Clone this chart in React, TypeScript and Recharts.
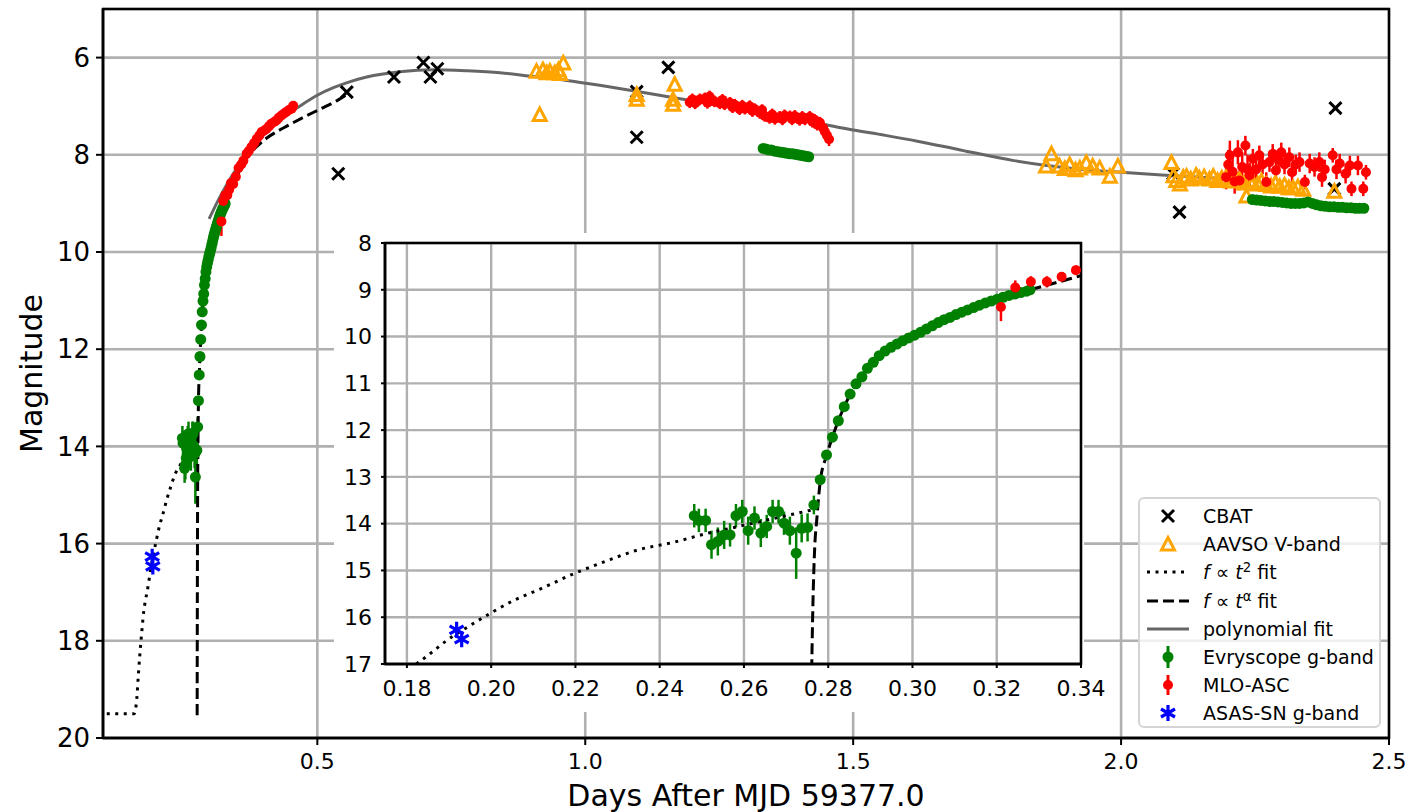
import React from "react";
import {
  CartesianGrid,
  ComposedChart,
  ErrorBar,
  Legend,
  Line,
  ReferenceArea,
  Scatter,
  XAxis,
  YAxis,
} from "recharts";

const FONT = "DejaVu Sans, sans-serif";

type P = [number, number];
type E = [number, number, number];

// axis ticks
const mainXTicks = [0.5, 1.0, 1.5, 2.0, 2.5];
const mainYTicks = [6, 8, 10, 12, 14, 16, 18, 20];
const insetXTicks = [0.18, 0.2, 0.22, 0.24, 0.26, 0.28, 0.3, 0.32, 0.34];
const insetYTicks = [8, 9, 10, 11, 12, 13, 14, 15, 16, 17];

// CBAT (x markers)
const cbat: P[] = [
  [0.539, 8.39], [0.555, 6.71], [0.643, 6.4], [0.698, 6.1], [0.711, 6.4], [0.724, 6.23],
  [1.096, 7.64], [1.096, 6.7], [1.155, 6.2], [2.097, 8.39], [2.109, 9.18], [2.398, 8.7], [2.4, 7.04],
];

// AAVSO V-band (open triangles)
const aavso: P[] = [
  [0.909, 6.3], [0.915, 7.19], [0.921, 6.27], [0.928, 6.33], [0.934, 6.3], [0.943, 6.33],
  [0.95, 6.27], [0.953, 6.35], [0.959, 6.13],
  [1.096, 6.78], [1.096, 6.88], [1.164, 6.88], [1.164, 6.98], [1.167, 6.57],
  [1.86, 8.25], [1.87, 8.0], [1.885, 8.25], [1.895, 8.3], [1.904, 8.22], [1.915, 8.33],
  [1.923, 8.29], [1.935, 8.18], [1.947, 8.25], [1.96, 8.29], [1.979, 8.46], [1.994, 8.25],
  [2.094, 8.18], [2.098, 8.45], [2.103, 8.55], [2.11, 8.62], [2.116, 8.48], [2.122, 8.46],
  [2.13, 8.52], [2.14, 8.44], [2.146, 8.5], [2.155, 8.47], [2.165, 8.52], [2.172, 8.46],
  [2.18, 8.55], [2.188, 8.5], [2.196, 8.49], [2.205, 8.56], [2.214, 8.5], [2.221, 8.53],
  [2.23, 8.6], [2.234, 8.87], [2.24, 8.55], [2.246, 8.6], [2.255, 8.62], [2.262, 8.56],
  [2.271, 8.63], [2.28, 8.66], [2.288, 8.6], [2.296, 8.67], [2.305, 8.64], [2.313, 8.7],
  [2.321, 8.7], [2.33, 8.68], [2.34, 8.73], [2.398, 8.77],
];

// Evryscope g-band [x, mag, err]
const evryEarly: E[] = [
  [0.2482, 13.83, 0.25], [0.2493, 13.93, 0.25], [0.2509, 13.93, 0.25], [0.2523, 14.45, 0.3],
  [0.2538, 14.38, 0.3], [0.2553, 14.24, 0.3], [0.2567, 14.24, 0.25], [0.2581, 13.83, 0.25],
  [0.2596, 13.74, 0.25], [0.261, 14.15, 0.3], [0.2625, 13.88, 0.25], [0.264, 14.2, 0.3],
  [0.2654, 14.06, 0.25], [0.2668, 13.74, 0.25], [0.2682, 13.74, 0.25], [0.2695, 13.99, 0.25],
  [0.2709, 14.15, 0.3], [0.2724, 14.63, 0.55], [0.2737, 14.1, 0.3], [0.2751, 14.08, 0.3],
  [0.2766, 13.6, 0.2], [0.2781, 13.06, 0.1], [0.2796, 12.53, 0.08], [0.281, 12.15, 0.08],
  [0.2824, 11.8, 0.05], [0.2838, 11.5, 0.05], [0.2852, 11.23, 0.05], [0.2866, 11.01, 0.05],
  [0.288, 10.86, 0.05], [0.2893, 10.68, 0.05], [0.2907, 10.55, 0.05], [0.2921, 10.41, 0.05],
  [0.2935, 10.31, 0.05], [0.2949, 10.23, 0.05], [0.2963, 10.16, 0.05], [0.2977, 10.09, 0.05],
  [0.2991, 10.03, 0.05], [0.3005, 9.97, 0.05], [0.3019, 9.91, 0.05], [0.3033, 9.84, 0.05],
  [0.3047, 9.77, 0.05], [0.3061, 9.7, 0.05], [0.3075, 9.64, 0.05], [0.3089, 9.59, 0.05],
  [0.3103, 9.53, 0.05], [0.3117, 9.48, 0.05], [0.3131, 9.43, 0.05], [0.3145, 9.38, 0.05],
  [0.3159, 9.33, 0.05], [0.3173, 9.28, 0.05], [0.3187, 9.24, 0.05], [0.3201, 9.2, 0.05],
  [0.3215, 9.16, 0.05], [0.3229, 9.12, 0.05], [0.3243, 9.09, 0.05], [0.3257, 9.06, 0.05],
  [0.3271, 9.03, 0.05], [0.3279, 9.0, 0.05],
];
const evryMid: E[] = [
  [1.332, 7.87, 0.02], [1.337, 7.88, 0.02], [1.342, 7.9, 0.02], [1.347, 7.9, 0.02],
  [1.352, 7.92, 0.02], [1.357, 7.93, 0.02], [1.362, 7.94, 0.02], [1.367, 7.95, 0.02],
  [1.372, 7.96, 0.02], [1.377, 7.97, 0.02], [1.382, 7.98, 0.02], [1.387, 7.98, 0.02],
  [1.392, 7.99, 0.02], [1.397, 8.0, 0.02], [1.402, 8.01, 0.02], [1.407, 8.02, 0.02],
  [1.412, 8.03, 0.02], [1.417, 8.04, 0.02],
];
const evryLate: E[] = [
  [2.245, 8.92, 0.02], [2.253, 8.93, 0.02], [2.261, 8.94, 0.02], [2.269, 8.95, 0.02],
  [2.277, 8.96, 0.02], [2.285, 8.96, 0.02], [2.293, 8.97, 0.02], [2.301, 8.98, 0.02],
  [2.309, 8.99, 0.02], [2.317, 9.0, 0.02], [2.325, 9.0, 0.02], [2.333, 9.0, 0.02],
  [2.341, 8.99, 0.02], [2.349, 8.97, 0.02], [2.357, 9.0, 0.02], [2.365, 9.03, 0.02],
  [2.373, 9.05, 0.02], [2.381, 9.06, 0.02], [2.389, 9.07, 0.02], [2.397, 9.07, 0.02],
  [2.405, 9.08, 0.02], [2.413, 9.08, 0.02], [2.421, 9.09, 0.02], [2.429, 9.09, 0.02],
  [2.437, 9.1, 0.02], [2.445, 9.1, 0.02], [2.453, 9.1, 0.02],
];

// MLO-ASC [x, mag, err]
const mloEarly: E[] = [
  [0.321, 9.37, 0.3], [0.3244, 8.95, 0.15], [0.3281, 8.83, 0.12], [0.3319, 8.83, 0.12],
  [0.3354, 8.72, 0.1], [0.3388, 8.58, 0.1], [0.343, 8.6, 0.1], [0.348, 8.45, 0.1],
  [0.353, 8.27, 0.1], [0.358, 8.2, 0.08], [0.362, 8.12, 0.08], [0.368, 7.98, 0.08],
  [0.372, 7.92, 0.08], [0.377, 7.84, 0.08], [0.382, 7.76, 0.08], [0.387, 7.67, 0.08],
  [0.392, 7.6, 0.08], [0.396, 7.53, 0.08], [0.401, 7.5, 0.08], [0.405, 7.47, 0.08],
  [0.41, 7.41, 0.08], [0.414, 7.36, 0.08], [0.42, 7.32, 0.08], [0.424, 7.29, 0.08],
  [0.428, 7.24, 0.08], [0.433, 7.19, 0.08], [0.438, 7.15, 0.08], [0.442, 7.12, 0.08],
  [0.447, 7.08, 0.08], [0.452, 7.05, 0.08], [0.455, 6.99, 0.08],
];
const mloMid: E[] = [
  [1.195, 6.92, 0.12], [1.2, 6.86, 0.12], [1.205, 6.94, 0.12], [1.214, 6.86, 0.12],
  [1.223, 6.84, 0.12], [1.228, 6.93, 0.12], [1.232, 6.8, 0.12], [1.241, 6.9, 0.12],
  [1.251, 6.94, 0.12], [1.256, 6.87, 0.12], [1.26, 6.96, 0.12], [1.27, 6.93, 0.12],
  [1.275, 7.02, 0.12], [1.279, 6.97, 0.12], [1.288, 7.06, 0.12], [1.293, 6.99, 0.12],
  [1.298, 7.05, 0.12], [1.307, 7.0, 0.12], [1.312, 7.1, 0.12], [1.316, 7.06, 0.12],
  [1.326, 7.14, 0.12], [1.33, 7.08, 0.12], [1.335, 7.2, 0.12], [1.344, 7.24, 0.12],
  [1.349, 7.17, 0.12], [1.354, 7.26, 0.12], [1.363, 7.22, 0.12], [1.368, 7.27, 0.12],
  [1.372, 7.19, 0.12], [1.382, 7.21, 0.12], [1.386, 7.27, 0.12], [1.391, 7.2, 0.12],
  [1.4, 7.28, 0.12], [1.405, 7.22, 0.12], [1.41, 7.27, 0.12], [1.419, 7.22, 0.12],
  [1.424, 7.32, 0.12], [1.428, 7.28, 0.12], [1.433, 7.38, 0.12], [1.438, 7.34, 0.12],
  [1.444, 7.45, 0.12], [1.447, 7.52, 0.12], [1.451, 7.6, 0.14], [1.455, 7.68, 0.14],
];
const mloLate: E[] = [
  [2.196, 8.46, 0.25], [2.2, 8.2, 0.3], [2.203, 8.01, 0.3], [2.208, 8.35, 0.3],
  [2.212, 8.55, 0.25], [2.218, 7.95, 0.25], [2.221, 8.53, 0.2], [2.226, 8.25, 0.3],
  [2.232, 7.81, 0.2], [2.236, 8.3, 0.3], [2.24, 8.42, 0.25], [2.246, 8.08, 0.2],
  [2.252, 8.3, 0.25], [2.258, 8.01, 0.2], [2.264, 8.2, 0.2], [2.271, 8.56, 0.2],
  [2.277, 8.15, 0.2], [2.283, 7.98, 0.2], [2.289, 8.32, 0.2], [2.294, 8.1, 0.2],
  [2.299, 7.95, 0.2], [2.305, 8.2, 0.2], [2.314, 8.05, 0.2], [2.319, 8.36, 0.2],
  [2.326, 8.2, 0.2], [2.333, 8.15, 0.2], [2.343, 8.56, 0.15], [2.352, 8.18, 0.2],
  [2.361, 8.25, 0.2], [2.37, 8.15, 0.2], [2.375, 8.46, 0.2], [2.38, 8.3, 0.2],
  [2.395, 8.01, 0.15], [2.402, 8.3, 0.2], [2.408, 8.18, 0.2], [2.419, 8.39, 0.2],
  [2.427, 8.22, 0.2], [2.43, 8.7, 0.15], [2.442, 8.22, 0.2], [2.452, 8.7, 0.15],
  [2.457, 8.36, 0.15],
];

// ASAS-SN g-band
const asassn: P[] = [[0.1918, 16.27], [0.193, 16.47]];

// fits
const fitT2: P[] = [
  [0.107, 19.5], [0.158, 19.5], [0.163, 19.2], [0.166, 18.7], [0.169, 18.25], [0.1725, 17.8],
  [0.176, 17.4], [0.1795, 17.15], [0.1827, 16.97], [0.1862, 16.73], [0.1894, 16.5],
  [0.1946, 16.2], [0.2001, 15.9], [0.2056, 15.63], [0.2116, 15.4], [0.2191, 15.09],
  [0.227, 14.81], [0.2349, 14.56], [0.2432, 14.4], [0.2516, 14.2], [0.2567, 14.1],
  [0.2665, 13.9], [0.2765, 13.7],
];
const fitTa: P[] = [
  [0.2757, 19.53], [0.2761, 17.0], [0.2764, 15.6], [0.2768, 14.5], [0.2773, 13.9],
  [0.2781, 13.1], [0.2796, 12.55], [0.281, 12.15], [0.2824, 11.8], [0.2838, 11.5],
  [0.2852, 11.24], [0.2866, 11.02], [0.288, 10.85], [0.2907, 10.55], [0.2935, 10.31],
  [0.2963, 10.15], [0.3005, 9.96], [0.3047, 9.77], [0.3089, 9.58], [0.3131, 9.43],
  [0.3173, 9.28], [0.3215, 9.15], [0.3257, 9.05], [0.3299, 8.95], [0.34, 8.7],
  [0.356, 8.3], [0.374, 7.98], [0.39, 7.8], [0.405, 7.66], [0.425, 7.52], [0.443, 7.41],
  [0.474, 7.23], [0.505, 7.06], [0.539, 6.87], [0.555, 6.76],
];
const fitPoly: P[] = [
  [0.298, 9.32], [0.318, 8.87], [0.343, 8.39], [0.374, 7.91], [0.405, 7.53], [0.436, 7.23],
  [0.467, 7.0], [0.499, 6.78], [0.53, 6.62], [0.56, 6.5], [0.592, 6.4], [0.654, 6.29],
  [0.716, 6.25], [0.778, 6.27], [0.841, 6.31], [0.903, 6.39], [0.965, 6.47], [1.027, 6.57],
  [1.089, 6.68], [1.152, 6.8], [1.21, 6.91], [1.28, 7.04], [1.35, 7.18], [1.42, 7.32],
  [1.49, 7.47], [1.56, 7.6], [1.62, 7.72], [1.7, 7.9], [1.8, 8.12], [1.91, 8.28],
  [2.0, 8.36], [2.1, 8.43], [2.19, 8.49],
];

const xy = (a: P[]) => a.map(([x, y]) => ({ x, y }));
const xye = (a: E[]) => a.map(([x, y, e]) => ({ x, y, e }));

const cbatData = xy(cbat);
const aavsoData = xy(aavso);
const evryData = xye([...evryEarly, ...evryMid, ...evryLate]);
const mloData = xye([...mloEarly, ...mloMid, ...mloLate]);
const asassnData = xy(asassn);
const t2Data = xy(fitT2);
const taData = xy(fitTa);
const polyData = xy(fitPoly);

const inInset = (d: { x: number; y: number }) => d.x >= 0.174 && d.x <= 0.341 && d.y >= 7.9 && d.y <= 17.1;

// marker shapes
const dot = (fill: string, r: number) => (p: any) => <circle cx={p.cx} cy={p.cy} r={r} fill={fill} />;
const cross = (p: any) => {
  const s = 6;
  return (
    <path
      d={`M${p.cx - s},${p.cy - s}L${p.cx + s},${p.cy + s}M${p.cx + s},${p.cy - s}L${p.cx - s},${p.cy + s}`}
      stroke="#000"
      strokeWidth={3}
      fill="none"
    />
  );
};
const triangle = (p: any) => (
  <path
    d={`M${p.cx},${p.cy - 7.5}L${p.cx + 6.5},${p.cy + 5}L${p.cx - 6.5},${p.cy + 5}Z`}
    stroke="#ffa500"
    strokeWidth={3}
    fill="none"
  />
);
const asterisk = (p: any) => (
  <path
    d={`M${p.cx},${p.cy - 8}L${p.cx},${p.cy + 8}M${p.cx - 7},${p.cy - 4}L${p.cx + 7},${p.cy + 4}M${p.cx - 7},${p.cy + 4}L${p.cx + 7},${p.cy - 4}`}
    stroke="#0000ff"
    strokeWidth={3.2}
    fill="none"
  />
);

const yTitle = (props: any) => {
  const vb = props.viewBox || { x: 0, y: 9, width: 103, height: 729 };
  const cx = vb.x + 31;
  const cy = vb.y + vb.height / 2;
  return (
    <text x={cx} y={cy} transform={`rotate(-90 ${cx} ${cy})`} textAnchor="middle" dominantBaseline="central" fontSize={30} fontFamily={FONT} fill="#000">
      Magnitude
    </text>
  );
};
const xTitle = (props: any) => {
  const vb = props.viewBox || { x: 103, y: 738, width: 1286, height: 74 };
  return (
    <text x={vb.x + vb.width / 2} y={vb.y + 57} textAnchor="middle" dominantBaseline="central" fontSize={30} fontFamily={FONT} fill="#000">
      Days After MJD 59377.0
    </text>
  );
};

const LegendIcon = ({ kind }: { kind: string }) => {
  const c = 28;
  const m = 14;
  let el: React.ReactNode = null;
  if (kind === "cbat") el = cross({ cx: c, cy: m });
  if (kind === "aavso") el = triangle({ cx: c, cy: m + 1 });
  if (kind === "t2") el = <line x1={7} x2={49} y1={m} y2={m} stroke="#000" strokeWidth={3} strokeDasharray="3 5.5" />;
  if (kind === "ta") el = <line x1={7} x2={49} y1={m} y2={m} stroke="#000" strokeWidth={3} strokeDasharray="11 5" />;
  if (kind === "poly") el = <line x1={7} x2={49} y1={m} y2={m} stroke="#666666" strokeWidth={3} />;
  if (kind === "evry")
    el = (
      <g>
        <line x1={c} x2={c} y1={3} y2={25} stroke="#008000" strokeWidth={3} />
        <circle cx={c} cy={m} r={5.5} fill="#008000" />
      </g>
    );
  if (kind === "mlo")
    el = (
      <g>
        <line x1={c} x2={c} y1={4} y2={24} stroke="#ff0000" strokeWidth={3} />
        <circle cx={c} cy={m} r={5} fill="#ff0000" />
      </g>
    );
  if (kind === "asassn") el = asterisk({ cx: c, cy: m });
  return (
    <svg width={56} height={28} style={{ display: "block", flex: "none" }}>
      {el}
    </svg>
  );
};

const legendRows: { kind: string; label: React.ReactNode }[] = [
  { kind: "cbat", label: "CBAT" },
  { kind: "aavso", label: "AAVSO V-band" },
  { kind: "t2", label: <span><i>f</i> ∝ <i>t</i><sup style={{ fontSize: "0.7em", lineHeight: 0 }}>2</sup> fit</span> },
  { kind: "ta", label: <span><i>f</i> ∝ <i>t</i><sup style={{ fontSize: "0.7em", lineHeight: 0 }}>α</sup> fit</span> },
  { kind: "poly", label: "polynomial fit" },
  { kind: "evry", label: "Evryscope g-band" },
  { kind: "mlo", label: "MLO-ASC" },
  { kind: "asassn", label: "ASAS-SN g-band" },
];

const LegendBox = () => (
  <div
    style={{
      width: 243,
      height: 231,
      boxSizing: "border-box",
      border: "2px solid #d4d4d4",
      borderRadius: 6,
      background: "rgba(255,255,255,0.8)",
      paddingTop: 3,
      fontFamily: FONT,
      fontSize: 19,
      color: "#000",
    }}
  >
    {legendRows.map((r) => (
      <div key={r.kind} style={{ display: "flex", alignItems: "center", height: 28.2 }}>
        <LegendIcon kind={r.kind} />
        <span style={{ marginLeft: 7, whiteSpace: "nowrap", lineHeight: "28px" }}>{r.label}</span>
      </div>
    ))}
  </div>
);

const axisLine = { stroke: "#000", strokeWidth: 2.5 };
const tickLine = { stroke: "#000", strokeWidth: 2 };

function MainChart() {
  return (
    <ComposedChart width={1408} height={812} margin={{ top: 9, right: 19, bottom: 0, left: 0 }}>
      <CartesianGrid stroke="#b0b0b0" strokeWidth={2.6} />
      <XAxis
        type="number"
        dataKey="x"
        domain={[0.1, 2.5]}
        ticks={mainXTicks}
        interval={0}
        tickFormatter={(v: number) => v.toFixed(1)}
        allowDataOverflow
        height={74}
        axisLine={axisLine}
        tickLine={tickLine}
        tickSize={7}
        tickMargin={8}
        tick={{ fill: "#000", fontSize: 22, fontFamily: FONT }}
        label={{ content: xTitle }}
      />
      <YAxis
        type="number"
        dataKey="y"
        domain={[5, 20]}
        reversed
        ticks={mainYTicks}
        interval={0}
        allowDataOverflow
        width={103}
        axisLine={axisLine}
        tickLine={tickLine}
        tickSize={7}
        tickMargin={6}
        tick={{ fill: "#000", fontSize: 26, fontFamily: FONT }}
        label={{ content: yTitle }}
      />
      <Scatter data={cbatData} shape={cross} isAnimationActive={false} />
      <Scatter data={aavsoData} shape={triangle} isAnimationActive={false} />
      <Line data={polyData} dataKey="y" type="monotone" stroke="#666666" strokeWidth={3} dot={false} activeDot={false} isAnimationActive={false} />
      <Scatter data={evryData} shape={dot("#008000", 5.5)} isAnimationActive={false}>
        <ErrorBar dataKey="e" direction="y" width={0} stroke="#008000" strokeWidth={2.5} />
      </Scatter>
      <Scatter data={mloData} shape={dot("#ff0000", 5)} isAnimationActive={false}>
        <ErrorBar dataKey="e" direction="y" width={0} stroke="#ff0000" strokeWidth={2.5} />
      </Scatter>
      <Scatter data={asassnData} shape={asterisk} isAnimationActive={false} />
      <Line data={t2Data} dataKey="y" type="monotone" stroke="#000" strokeWidth={3} strokeDasharray="3 5.5" dot={false} activeDot={false} isAnimationActive={false} />
      <Line data={taData} dataKey="y" type="monotone" stroke="#000" strokeWidth={3} strokeDasharray="11 5" dot={false} activeDot={false} isAnimationActive={false} />
      <ReferenceArea x1={0.1} x2={2.5} y1={5} y2={20} fill="none" stroke="#000" strokeWidth={2.5} ifOverflow="visible" />
      <Legend
        layout="vertical"
        align="center"
        verticalAlign="middle"
        wrapperStyle={{ left: 1138, top: 497, width: 243, height: 231 }}
        content={() => <LegendBox />}
      />
    </ComposedChart>
  );
}

function InsetChart() {
  const f = (d: any[]) => d.filter(inInset);
  return (
    <div style={{ position: "absolute", left: 334, top: 223, width: 780, height: 489 }}>
      <div style={{ position: "absolute", left: 0, top: 10, width: 750, height: 479, background: "#fff" }} />
      <div style={{ position: "absolute", left: 0, top: 0 }}>
        <ComposedChart width={780} height={489} margin={{ top: 20, right: 33, bottom: 0, left: 0 }}>
          <CartesianGrid stroke="#b0b0b0" strokeWidth={2.4} />
          <XAxis
            type="number"
            dataKey="x"
            domain={[0.1748, 0.34]}
            ticks={insetXTicks}
            interval={0}
            tickFormatter={(v: number) => v.toFixed(2)}
            allowDataOverflow
            height={48}
            axisLine={axisLine}
            tickLine={tickLine}
            tickSize={4}
            tickMargin={12}
            tick={{ fill: "#000", fontSize: 22, fontFamily: FONT }}
          />
          <YAxis
            type="number"
            dataKey="y"
            domain={[8, 17]}
            reversed
            ticks={insetYTicks}
            interval={0}
            allowDataOverflow
            width={51}
            axisLine={axisLine}
            tickLine={tickLine}
            tickSize={4}
            tickMargin={9}
            tick={{ fill: "#000", fontSize: 22, fontFamily: FONT }}
          />
          <Scatter data={f(evryData)} shape={dot("#008000", 5.5)} isAnimationActive={false}>
            <ErrorBar dataKey="e" direction="y" width={0} stroke="#008000" strokeWidth={2.5} />
          </Scatter>
          <Scatter data={f(mloData)} shape={dot("#ff0000", 5)} isAnimationActive={false}>
            <ErrorBar dataKey="e" direction="y" width={0} stroke="#ff0000" strokeWidth={2.5} />
          </Scatter>
          <Scatter data={f(asassnData)} shape={asterisk} isAnimationActive={false} />
          <Line data={t2Data} dataKey="y" type="monotone" stroke="#000" strokeWidth={3} strokeDasharray="3 5.5" dot={false} activeDot={false} isAnimationActive={false} />
          <Line data={taData} dataKey="y" type="monotone" stroke="#000" strokeWidth={3} strokeDasharray="11 5" dot={false} activeDot={false} isAnimationActive={false} />
          <ReferenceArea x1={0.1748} x2={0.34} y1={8} y2={17} fill="none" stroke="#000" strokeWidth={2.5} ifOverflow="visible" />
        </ComposedChart>
      </div>
    </div>
  );
}

export default function App() {
  return (
    <div style={{ position: "relative", width: 1408, height: 812, background: "#fff" }}>
      <style>{"body{margin:0}"}</style>
      <MainChart />
      <InsetChart />
    </div>
  );
}
